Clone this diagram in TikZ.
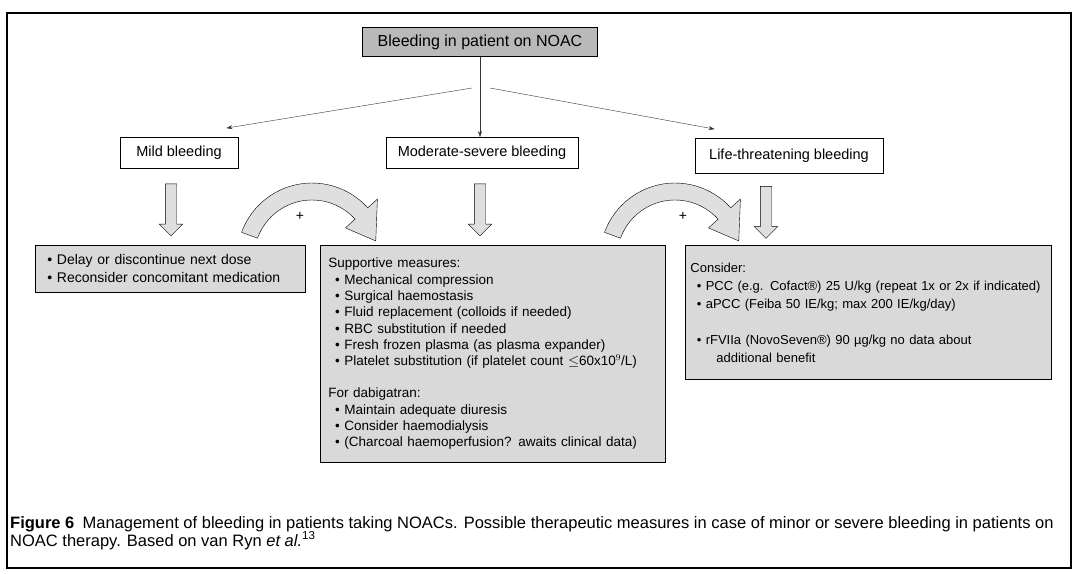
\documentclass[tikz,border=0pt]{standalone}
\usepackage{fontspec}
\setmainfont{Liberation Sans}
\usetikzlibrary{arrows.meta,positioning,calc,shapes.arrows}

\newcommand{\plusarrow}[1]{%
  \draw[bendarrow,shift={(#1)}]
    plot[domain=200:318,samples=30] (\x:75) -- (318:88) -- (345:66)
    -- (318:45) -- plot[domain=318:200,samples=30] (\x:58) -- cycle;}

\begin{document}
\begin{tikzpicture}[x=1pt,y=-1pt,
  title/.style={draw,thick,fill=white,inner sep=2pt,minimum height=31pt,
    font=\fontsize{14.5}{16}\selectfont},
  detail/.style={draw,thick,fill=gray!30,anchor=north west,align=left,
    inner sep=8pt,font=\fontsize{13.5}{16.3}\selectfont},
  conn/.style={-{Stealth[length=6pt,width=4pt]},thin,black!80},
  downarrow/.style={single arrow,draw,fill=gray!25,rotate=-90,inner sep=5.5pt,
    single arrow head extend=6pt,minimum height=52pt},
  bendarrow/.style={draw,fill=gray!25,line join=round}]
  \useasboundingbox (0,0) rectangle (1075,573);
  % Frame
  \draw[line width=1.3pt] (7,13) rectangle (1071,568);
  % Top box
  \node[draw,thick,fill=gray!55,minimum width=235pt,minimum height=29pt,
    font=\fontsize{16}{18}\selectfont] (bleed) at (480,42)
    {Bleeding in patient on NOAC};
  % Three grades
  \node[title,minimum width=118pt] (mild) at (179,153) {Mild bleeding};
  \node[title,minimum width=192pt] (moderate) at (482,153)
    {Moderate-severe bleeding};
  \node[title,minimum width=188pt,minimum height=35pt] (life) at (789,156)
    {Life-threatening bleeding};
  % Branches
  \coordinate (forkl) at (472,88);
  \coordinate (forkr) at (490,88);
  \draw[conn] (bleed.south) -- (bleed.south |- moderate.north);
  \draw[conn] (forkl) -- ([xshift=-12pt,yshift=9pt]mild.north east);
  \draw[conn] (forkr) -- ([xshift=20pt,yshift=9pt]life.north west);
  % Measures
  \node[detail,minimum width=270pt,minimum height=47pt,text width=260pt,
    font=\fontsize{14}{18}\selectfont,inner xsep=5pt,inner ysep=4pt]
    (mildact) at (35,245)
    {\enspace• Delay or discontinue next dose\\
     \enspace• Reconsider concomitant medication};
  \node[detail,minimum width=345pt,minimum height=217pt,text width=329pt]
    (modact) at (320,245)
    {Supportive measures:\\
     \enspace• Mechanical compression\\
     \enspace• Surgical haemostasis\\
     \enspace• Fluid replacement (colloids if needed)\\
     \enspace• RBC substitution if needed\\
     \enspace• Fresh frozen plasma (as plasma expander)\\
     \enspace• Platelet substitution (if platelet count $\leq$60x10$^9$/L)\\[16pt]
     For dabigatran:\\
     \enspace• Maintain adequate diuresis\\
     \enspace• Consider haemodialysis\\
     \enspace• (Charcoal haemoperfusion? awaits clinical data)};
  \node[detail,minimum width=366pt,minimum height=134pt,text width=356pt,
    inner xsep=5pt,font=\fontsize{13}{18}\selectfont] (lifeact) at (685,245)
    {Consider:\\
     \enspace• PCC (e.g. Cofact®) 25 U/kg (repeat 1x or 2x if indicated)\\
     \enspace• aPCC (Feiba 50 IE/kg; max 200 IE/kg/day)\\[18pt]
     \enspace• rFVIIa (NovoSeven®) 90 µg/kg no data about\\
     \qquad additional benefit};
  % Block arrows
  \node[downarrow] (mildarr) at ($(mild.south)!0.5!(mild.south |- mildact.north)+(-8,0)$) {};
  \node[downarrow] (modarr) at ($(moderate.south)!0.5!(moderate.south |- modact.north)+(-2,0)$) {};
  \node[downarrow] (lifearr) at ($(life.south)!0.5!(life.south |- lifeact.north)+(-23,0)$) {};
  % Combined measures
  \coordinate (arcl) at (312,258);
  \coordinate (arcr) at (675,258);
  \plusarrow{arcl}
  \plusarrow{arcr}
  \node[font=\fontsize{14}{16}\selectfont] (plusl) at (300,216) {+};
  \node[font=\fontsize{14}{16}\selectfont] (plusr) at (683,216) {+};
  % Caption
  \node[anchor=north west,align=left,inner sep=0pt,
    font=\fontsize{16.5}{18}\selectfont] (caption) at (10,516)
    {\textbf{Figure 6}\enspace Management of bleeding in patients taking NOACs.
     Possible therapeutic measures in case of minor or severe bleeding in patients on\\
     NOAC therapy. Based on van Ryn \textit{et al.}\textsuperscript{13}};
\end{tikzpicture}
\end{document}
